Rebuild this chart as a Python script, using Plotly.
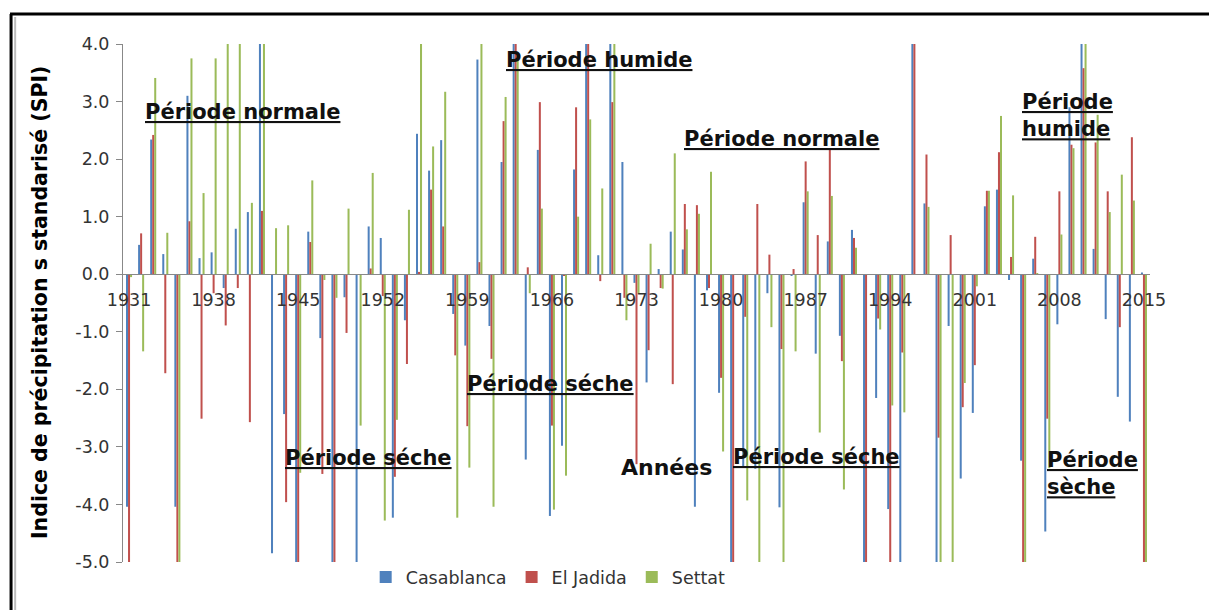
import plotly.graph_objects as go

years = list(range(1931, 2016))

casablanca = [
    -4.04, 0.51, 2.34, 0.35, -4.04, 3.10, 0.28, 0.38, -0.24, 0.79,
    1.08, 4.00, -4.85, -2.43, -5.00, 0.74, -1.11, -5.00, -0.40, -5.00,
    0.83, 0.63, -4.23, -0.80, 2.44, 1.80, 2.33, -0.69, -1.24, 3.73,
    -0.90, 1.95, 4.00, -3.22, 2.16, -4.20, -2.98, 1.82, 4.00, 0.33,
    4.00, 1.95, -0.15, -1.88, 0.09, 0.74, 0.43, -4.04, -0.28, -2.06,
    -5.00, -3.36, -3.38, -0.33, -4.05, -0.03, 1.25, -1.38, 0.57, -1.07,
    0.77, -5.00, -2.15, -4.08, -5.00, 4.00, 1.23, -5.00, -0.90, -3.55,
    -2.41, 1.18, 1.47, -0.10, -3.24, 0.27, -4.47, -0.87, 2.90, 4.00,
    0.44, -0.78, -2.13, -2.56, 0.03,
]
el_jadida = [
    -5.00, 0.71, 2.42, -1.72, -5.00, 0.92, -2.51, -0.33, -0.89, -0.24,
    -2.57, 1.10, 0.00, -3.96, -5.00, 0.56, -3.47, -5.00, -1.02, 0.00,
    0.10, -0.38, -3.52, -1.56, 0.04, 1.47, 0.83, -1.41, -2.64, 0.21,
    -1.47, 2.66, 4.00, 0.12, 2.99, -2.63, -0.03, 2.90, 4.00, -0.12,
    2.99, -0.41, -3.30, -1.32, -0.24, -1.91, 1.22, 1.20, -0.24, -1.80,
    -5.00, -0.74, 1.22, 0.34, -1.30, 0.09, 1.96, 0.68, 2.16, -1.51,
    0.63, -5.00, -0.77, -5.00, -1.36, 4.00, 2.08, -2.84, 0.68, -2.31,
    -1.58, 1.45, 2.12, 0.30, -5.00, 0.65, -2.51, 1.44, 2.25, 3.58,
    2.29, 1.44, -0.92, 2.38, -5.00,
]
settat = [
    -0.05, -1.34, 3.41, 0.72, -5.00, 3.75, 1.41, 3.75, 4.00, 4.00,
    1.24, 4.00, 0.80, 0.85, -3.45, 1.63, -0.10, -0.41, 1.14, -2.63,
    1.76, -4.28, -2.53, 1.12, 4.00, 2.22, 3.17, -4.23, -3.36, 4.00,
    -4.04, 3.08, 3.80, -0.33, 1.14, -4.09, -3.50, 1.00, 2.69, 1.49,
    4.00, -0.80, -0.33, 0.53, -0.25, 2.10, 0.78, 1.05, 1.78, -3.08,
    0.00, -3.93, -5.00, -0.92, -5.00, -1.34, 1.44, -2.75, 1.36, -3.74,
    0.46, 0.00, -0.96, -2.28, -2.40, 0.00, 1.17, -5.00, -5.00, -1.89,
    -0.21, 1.45, 2.75, 1.37, -5.00, 0.02, -3.37, 0.69, 2.19, 4.00,
    2.77, 1.08, 1.73, 1.28, -5.00,
]

series_names = ["Casablanca", "El Jadida", "Settat"]
series_colors = ["#4F81BD", "#C0504D", "#9BBB59"]
tick_years = list(range(1931, 2016, 7))
y_ticks = [4, 3, 2, 1, 0, -1, -2, -3, -4, -5]

fig = go.Figure()
for name, vals, col in zip(series_names, [casablanca, el_jadida, settat], series_colors):
    fig.add_trace(go.Bar(x=years, y=vals, name=name, marker=dict(color=col, line=dict(width=0))))

TXT = "DejaVu Sans"
ann_font = dict(family="DejaVu Sans", size=21, color="#111111", weight="bold", lineposition="under")

labels = [
    ("Période normale", 1940.4, 2.82),
    ("Période humide", 1969.9, 3.72),
    ("Période normale", 1985.0, 2.35),
    ("Période séche", 1950.8, -3.19),
    ("Période séche", 1965.9, -1.91),
    ("Période séche", 1987.9, -3.18),
]
annotations = []
for t, x, y in labels:
    annotations.append(dict(text=t, x=x, y=y, xref="x", yref="y", showarrow=False,
                            font=ann_font, xanchor="center", yanchor="middle"))
annotations.append(dict(text="Période<br>humide", x=2004.76, y=2.75, xref="x", yref="y",
                        showarrow=False, font=ann_font, xanchor="left", yanchor="middle", align="left"))
annotations.append(dict(text="Période<br>sèche", x=2006.83, y=-3.47, xref="x", yref="y",
                        showarrow=False, font=ann_font, xanchor="left", yanchor="middle", align="left"))
annotations.append(dict(text="Années", x=1975.5, y=-3.35, xref="x", yref="y", showarrow=False,
                        font=dict(family="DejaVu Sans", size=22, color="#111111", weight="bold"),
                        xanchor="center", yanchor="middle"))
annotations.append(dict(text="Indice de précipitation s standarisé (SPI)", x=-0.0808, y=0.5,
                        xref="paper", yref="paper", showarrow=False, textangle=-90,
                        font=dict(family="DejaVu Sans", size=20.5, color="#000000", weight="bold"),
                        xanchor="center", yanchor="middle"))

shapes = [
    dict(type="line", xref="paper", yref="paper", x0=-0.110, x1=1.07, y0=1.058, y1=1.058,
         line=dict(color="#000000", width=3)),
    dict(type="line", xref="paper", yref="paper", x0=-0.109, x1=-0.109, y0=1.058, y1=-0.1,
         line=dict(color="#000000", width=3)),
    dict(type="line", xref="paper", yref="paper", x0=-0.105, x1=-0.105, y0=1.052, y1=-0.1,
         line=dict(color="#BBBBBB", width=2)),
]

fig.update_layout(
    width=1209, height=602,
    margin=dict(l=115, r=67, t=36, b=48),
    paper_bgcolor="white", plot_bgcolor="white",
    barmode="group", bargap=0.5, bargroupgap=0,
    font=dict(family=TXT, size=17, color="#333333"),
    showlegend=True,
    legend=dict(orientation="h", x=0.414, y=-0.029, xanchor="center", yanchor="middle",
                font=dict(family=TXT, size=17.5, color="#333333"), itemwidth=30,
                bgcolor="rgba(0,0,0,0)"),
    annotations=annotations,
    shapes=shapes,
    xaxis=dict(range=[1930.5, 2015.5], anchor="free", position=5 / 9,
               showline=True, linecolor="#888888", linewidth=1,
               tickmode="array", tickvals=tick_years, ticktext=[str(v) for v in tick_years],
               ticks="outside", ticklen=10, tickcolor="rgba(0,0,0,0)",
               showgrid=False, zeroline=False, tickfont=dict(size=17.5, color="#333333")),
    yaxis=dict(range=[-5, 4], tickmode="array", tickvals=y_ticks,
               ticktext=["%.1f" % v for v in y_ticks],
               showline=True, linecolor="#888888", linewidth=1,
               ticks="outside", ticklen=6, tickcolor="#888888", ticklabelstandoff=3,
               showgrid=False, zeroline=False, tickfont=dict(size=17.5, color="#333333")),
)

fig.write_html("out.html")
